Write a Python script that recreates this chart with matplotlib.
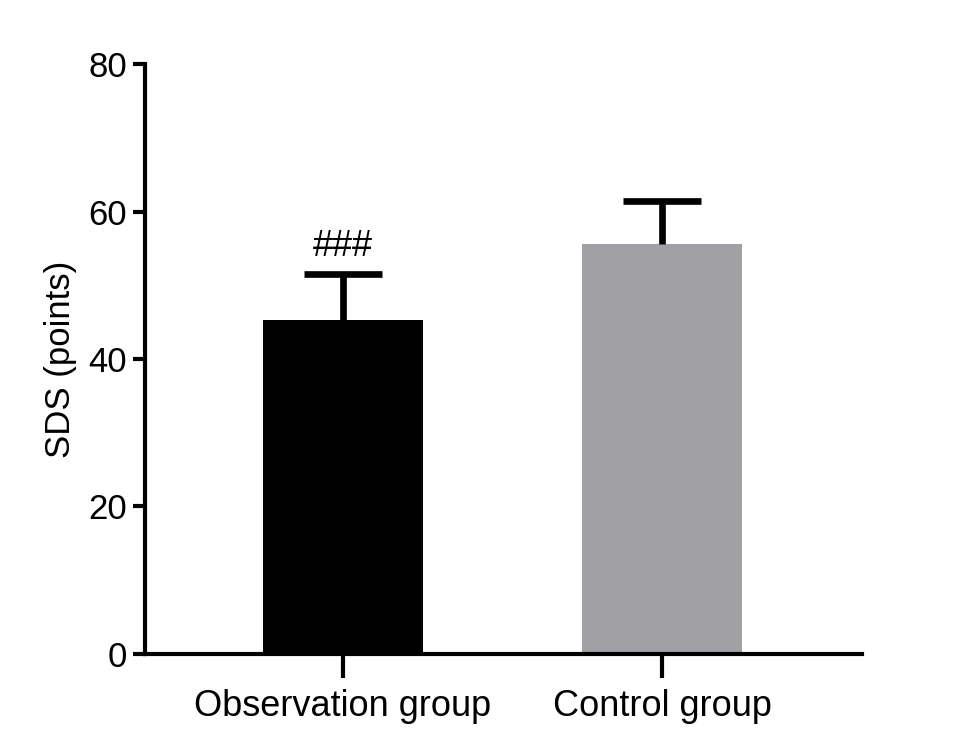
import matplotlib
matplotlib.use("Agg")
import matplotlib.pyplot as plt
import numpy as np

groups = ["Observation group", "Control group"]
means = [45.3, 55.6]
sds = [6.3, 5.9]
colors = ["#000000", "#A1A0A5"]
marks = ["###", ""]

plt.rcParams['font.family'] = ['Liberation Sans', 'DejaVu Sans']

fig = plt.figure(figsize=(9.74, 7.29), dpi=100)
ax = fig.add_axes([0.149, 0.103, 0.736, 0.809])

x = np.arange(len(groups))
ax.bar(x, means, width=0.5, color=colors, zorder=2)
eb = ax.errorbar(x, means, yerr=[[0, 0], sds], fmt='none', ecolor='black',
                 elinewidth=4.8, capsize=28, capthick=4.8, zorder=3)
# only the upper cap is wanted
for cap in eb[1]:
    if np.allclose(cap.get_ydata(), means):
        cap.set_visible(False)

for i, m in enumerate(marks):
    if m:
        ax.text(i, means[i] + sds[i] + 1.3, m, ha='center', va='bottom', fontsize=26)

ax.set_xlim(-0.62, 1.627)
ax.set_ylim(0, 80)
ax.set_yticks([0, 20, 40, 60, 80])
ax.set_xticks(x)
ax.set_xticklabels(groups)
ax.set_ylabel("SDS (points)", fontsize=25, labelpad=8)

for s in ['top', 'right']:
    ax.spines[s].set_visible(False)
for s in ['left', 'bottom']:
    ax.spines[s].set_linewidth(3)
ax.tick_params(axis='y', length=9, width=3, labelsize=25, pad=4)
ax.tick_params(axis='x', length=17, width=3, labelsize=26, pad=8)

fig.savefig("out.png", dpi=100)
